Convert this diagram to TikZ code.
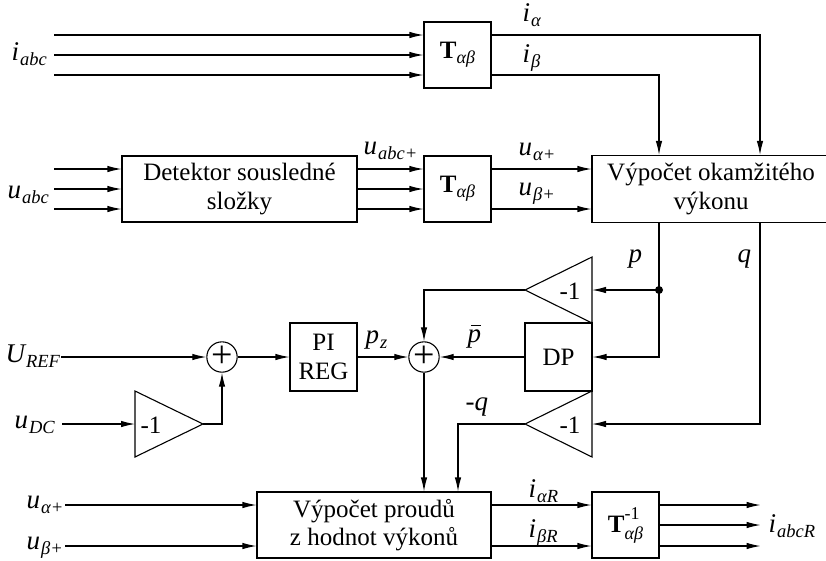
\documentclass[tikz,border=0pt]{standalone}
\usepackage{fontspec}
\setmainfont{Liberation Serif}
\usetikzlibrary{arrows.meta,calc}
\newcommand\bigf{\fontsize{25}{28.5}\selectfont}
\newcommand\lab[2]{{\fontsize{27}{30}\selectfont\itshape #1\hspace{0.04em}\raisebox{-0.2em}{\fontsize{18.5}{20}\selectfont #2}}}
\newcommand\Tab{\textbf{T}\raisebox{-0.2em}{\fontsize{18}{19}\selectfont\itshape αβ}}
\newcommand\Tinv{\textbf{T}\rlap{\raisebox{0.55em}{\fontsize{18}{19}\selectfont -1}}\raisebox{-0.25em}{\fontsize{18}{19}\selectfont\itshape αβ}}
\newcommand\pbar{{\fontsize{27}{30}\selectfont\itshape\rlap{\hspace{0.14em}\rule[0.6em]{0.36em}{0.045em}}p}}
\newcommand\plusf{{\fontsize{38}{38}\selectfont +}}
\begin{document}
\begin{tikzpicture}[x=1pt,y=-1pt, line width=1.1pt,
  arr/.style={-{Latex[length=14pt,width=6.5pt]}},
  blk/.style={draw, minimum width=67pt, minimum height=66pt, inner sep=0pt, font=\bigf, align=center},
  sumc/.style={draw, circle, minimum size=26pt, inner sep=0pt},
  lbl/.style={anchor=base west, inner sep=0pt},
  gain/.style={font=\bigf, inner sep=0pt}]
\useasboundingbox (0,0) rectangle (826,560);
% blocks
\node[blk] (Ta) at (457.5,55) {\Tab};
\node[blk, minimum width=235pt] (Det) at (239.5,189) {Detektor sousledné\\složky};
\node[blk] (Tb) at (457.5,189) {\Tab};
\node[blk, minimum width=238pt, minimum height=67pt] (Vyp) at (711,189) {Výpočet okamžitého\\výkonu};
\node[blk, minimum height=68pt] (DP) at (558.5,357) {DP};
\node[blk, minimum height=68pt] (PI) at (323.5,357) {PI\\REG};
\node[sumc] (S1) at (222,357) {\plusf};
\node[sumc] (S2) at (424,357) {\plusf};
\node[blk, minimum width=234pt] (Bot) at (374,525) {Výpočet proudů\\z hodnot výkonů};
\node[blk] (Ti) at (625.5,525) {\Tinv};
% gains
\draw (592,257) -- (592,323) -- (525,290) -- cycle;
\coordinate (T1i) at (592,290); \coordinate (T1o) at (525,290);
\node[gain] (G1) at (570,291) {-1};
\draw (592,391) -- (592,457) -- (525,424) -- cycle;
\coordinate (T2i) at (592,424); \coordinate (T2o) at (525,424);
\node[gain] (G2) at (570,425) {-1};
\draw (135,391) -- (135,457) -- (203,424) -- cycle;
\coordinate (T3i) at (135,424); \coordinate (T3o) at (203,424);
\node[gain] (G3) at (151,425) {-1};
% helper coordinates
\coordinate (qx) at (760,0);
\coordinate (px) at (659,0);
\coordinate (mq) at (458,0);
\coordinate (dot) at (659,290);
\coordinate (uref) at (61,357);
\coordinate (udc) at (62,424);
% connectors
\foreach \d in {-20,0,20} {
  \draw[arr] ($(Ta.west)+(-369,\d)$) -- ($(Ta.west)+(0,\d)$);
  \draw[arr] ($(Det.west)+(-67,\d)$) -- ($(Det.west)+(0,\d)$);
  \draw[arr] ($(Det.east)+(0,\d)$) -- ($(Tb.west)+(0,\d)$);
}
\draw[arr] ($(Ta.east)+(0,-20)$) -| (Vyp.north -| qx);
\draw[arr] ($(Ta.east)+(0,20)$) -| (Vyp.north -| px);
\draw[arr] ($(Tb.east)+(0,-20)$) -- ($(Vyp.west)+(0,-20)$);
\draw[arr] ($(Tb.east)+(0,20)$) -- ($(Vyp.west)+(0,20)$);
\draw[arr] (Vyp.south -| px) |- (DP.east);
\fill (dot) circle (4pt);
\draw[arr] (dot) -- (T1i);
\draw[arr] (T1o) -| (S2.north);
\draw[arr] (DP.west) -- (S2.east);
\draw[arr] (Vyp.south -| qx) |- (T2i);
\draw[arr] (T2o) -| (Bot.north -| mq);
\draw[arr] (S2.south) -- (Bot.north -| S2.south);
\draw[arr] (uref) -- (S1.west);
\draw[arr] (S1.east) -- (PI.west);
\draw[arr] (PI.east) -- (S2.west);
\draw[arr] (udc) -- (T3i);
\draw[arr] (T3o) -| (S1.south);
\foreach \d in {-20,21} {
  \draw[arr] ($(Bot.west)+(-191,\d)$) -- ($(Bot.west)+(0,\d)$);
  \draw[arr] ($(Bot.east)+(0,\d)$) -- ($(Ti.west)+(0,\d)$);
}
\foreach \d in {-20,0,21} {
  \draw[arr] ($(Ti.east)+(0,\d)$) -- ++(101,0);
}
% labels
\node[lbl] (L1) at (11,60) {\lab{i}{abc}};
\node[lbl] (L2) at (7,198) {\lab{u}{abc}};
\node[lbl] (L3) at (363,154) {\lab{u}{abc+}};
\node[lbl] (L4) at (522,21) {\lab{i}{α}};
\node[lbl] (L5) at (522,62) {\lab{i}{β}};
\node[lbl] (L6) at (518,155) {\lab{u}{α+}};
\node[lbl] (L7) at (518,195) {\lab{u}{β+}};
\node[lbl] (L8) at (628,262) {\lab{p}{}};
\node[lbl] (L9) at (737,262) {\lab{q}{}};
\node[lbl] (L10) at (467,342) {\pbar};
\node[lbl] (L11) at (465,410) {\lab{-q}{}};
\node[lbl] (L12) at (5,362) {\lab{U}{REF}};
\node[lbl] (L13) at (14,428) {\lab{u}{DC}};
\node[lbl] (L14) at (365,343) {\lab{p}{z}};
\node[lbl] (L15) at (26,508) {\lab{u}{α+}};
\node[lbl] (L16) at (26,549) {\lab{u}{β+}};
\node[lbl] (L17) at (528,497) {\lab{i}{αR}};
\node[lbl] (L18) at (528,537) {\lab{i}{βR}};
\node[lbl] (L19) at (768,532) {\lab{i}{abcR}};
\end{tikzpicture}
\end{document}
